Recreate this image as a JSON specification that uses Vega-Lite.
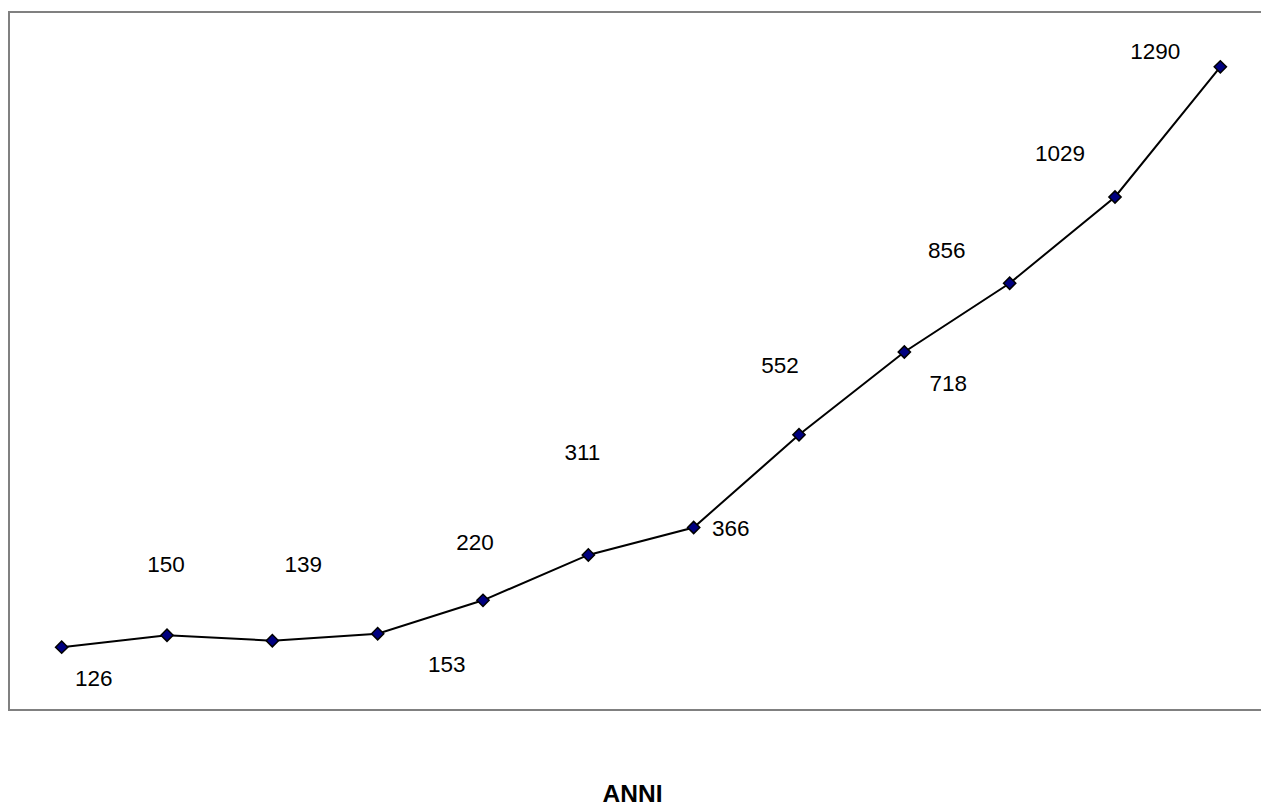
{
  "$schema": "https://vega.github.io/schema/vega-lite/v6.json",
  "autosize": "none",
  "padding": {"left": 9, "top": 12, "right": 0, "bottom": 97},
  "width": 1264,
  "height": 698,
  "background": "white",
  "config": {
    "view": {"stroke": "#808080", "strokeWidth": 2},
    "font": "Liberation Sans"
  },
  "data": {
    "values": [
      {"punto": 1, "valore": 126},
      {"punto": 2, "valore": 150},
      {"punto": 3, "valore": 139},
      {"punto": 4, "valore": 153},
      {"punto": 5, "valore": 220},
      {"punto": 6, "valore": 311},
      {"punto": 7, "valore": 366},
      {"punto": 8, "valore": 552},
      {"punto": 9, "valore": 718},
      {"punto": 10, "valore": 856},
      {"punto": 11, "valore": 1029},
      {"punto": 12, "valore": 1290}
    ]
  },
  "encoding": {
    "x": {
      "field": "punto",
      "type": "ordinal",
      "axis": {
        "title": "ANNI",
        "labels": false,
        "ticks": false,
        "domain": false,
        "grid": false,
        "titleFont": "Liberation Sans",
        "titleFontSize": 24.5,
        "titleFontWeight": "bold",
        "titleColor": "black",
        "titleX": 623,
        "titleY": 91,
        "titleAlign": "center",
        "titleBaseline": "alphabetic"
      }
    },
    "y": {
      "field": "valore",
      "type": "quantitative",
      "scale": {"domain": [0, 1400]},
      "axis": null
    }
  },
  "layer": [
    {"mark": {"type": "line", "color": "black", "strokeWidth": 2}},
    {
      "mark": {
        "type": "point",
        "shape": "diamond",
        "size": 150,
        "filled": true,
        "fill": "#000080",
        "stroke": "black",
        "strokeWidth": 1.5,
        "opacity": 1
      }
    },
    {
      "mark": {
        "type": "text",
        "font": "Liberation Sans",
        "fontSize": 22.5,
        "color": "black",
        "align": "center",
        "baseline": "middle",
        "dx": {"expr": "[32,-1,31,69,-8,-6,37,-19,44,-63,-55,-65][datum.punto-1]"},
        "dy": {"expr": "[32,-70,-76,31,-57,-102,1,-69,32,-32,-43,-15][datum.punto-1]"}
      },
      "encoding": {"text": {"field": "valore", "type": "quantitative"}}
    }
  ]
}
